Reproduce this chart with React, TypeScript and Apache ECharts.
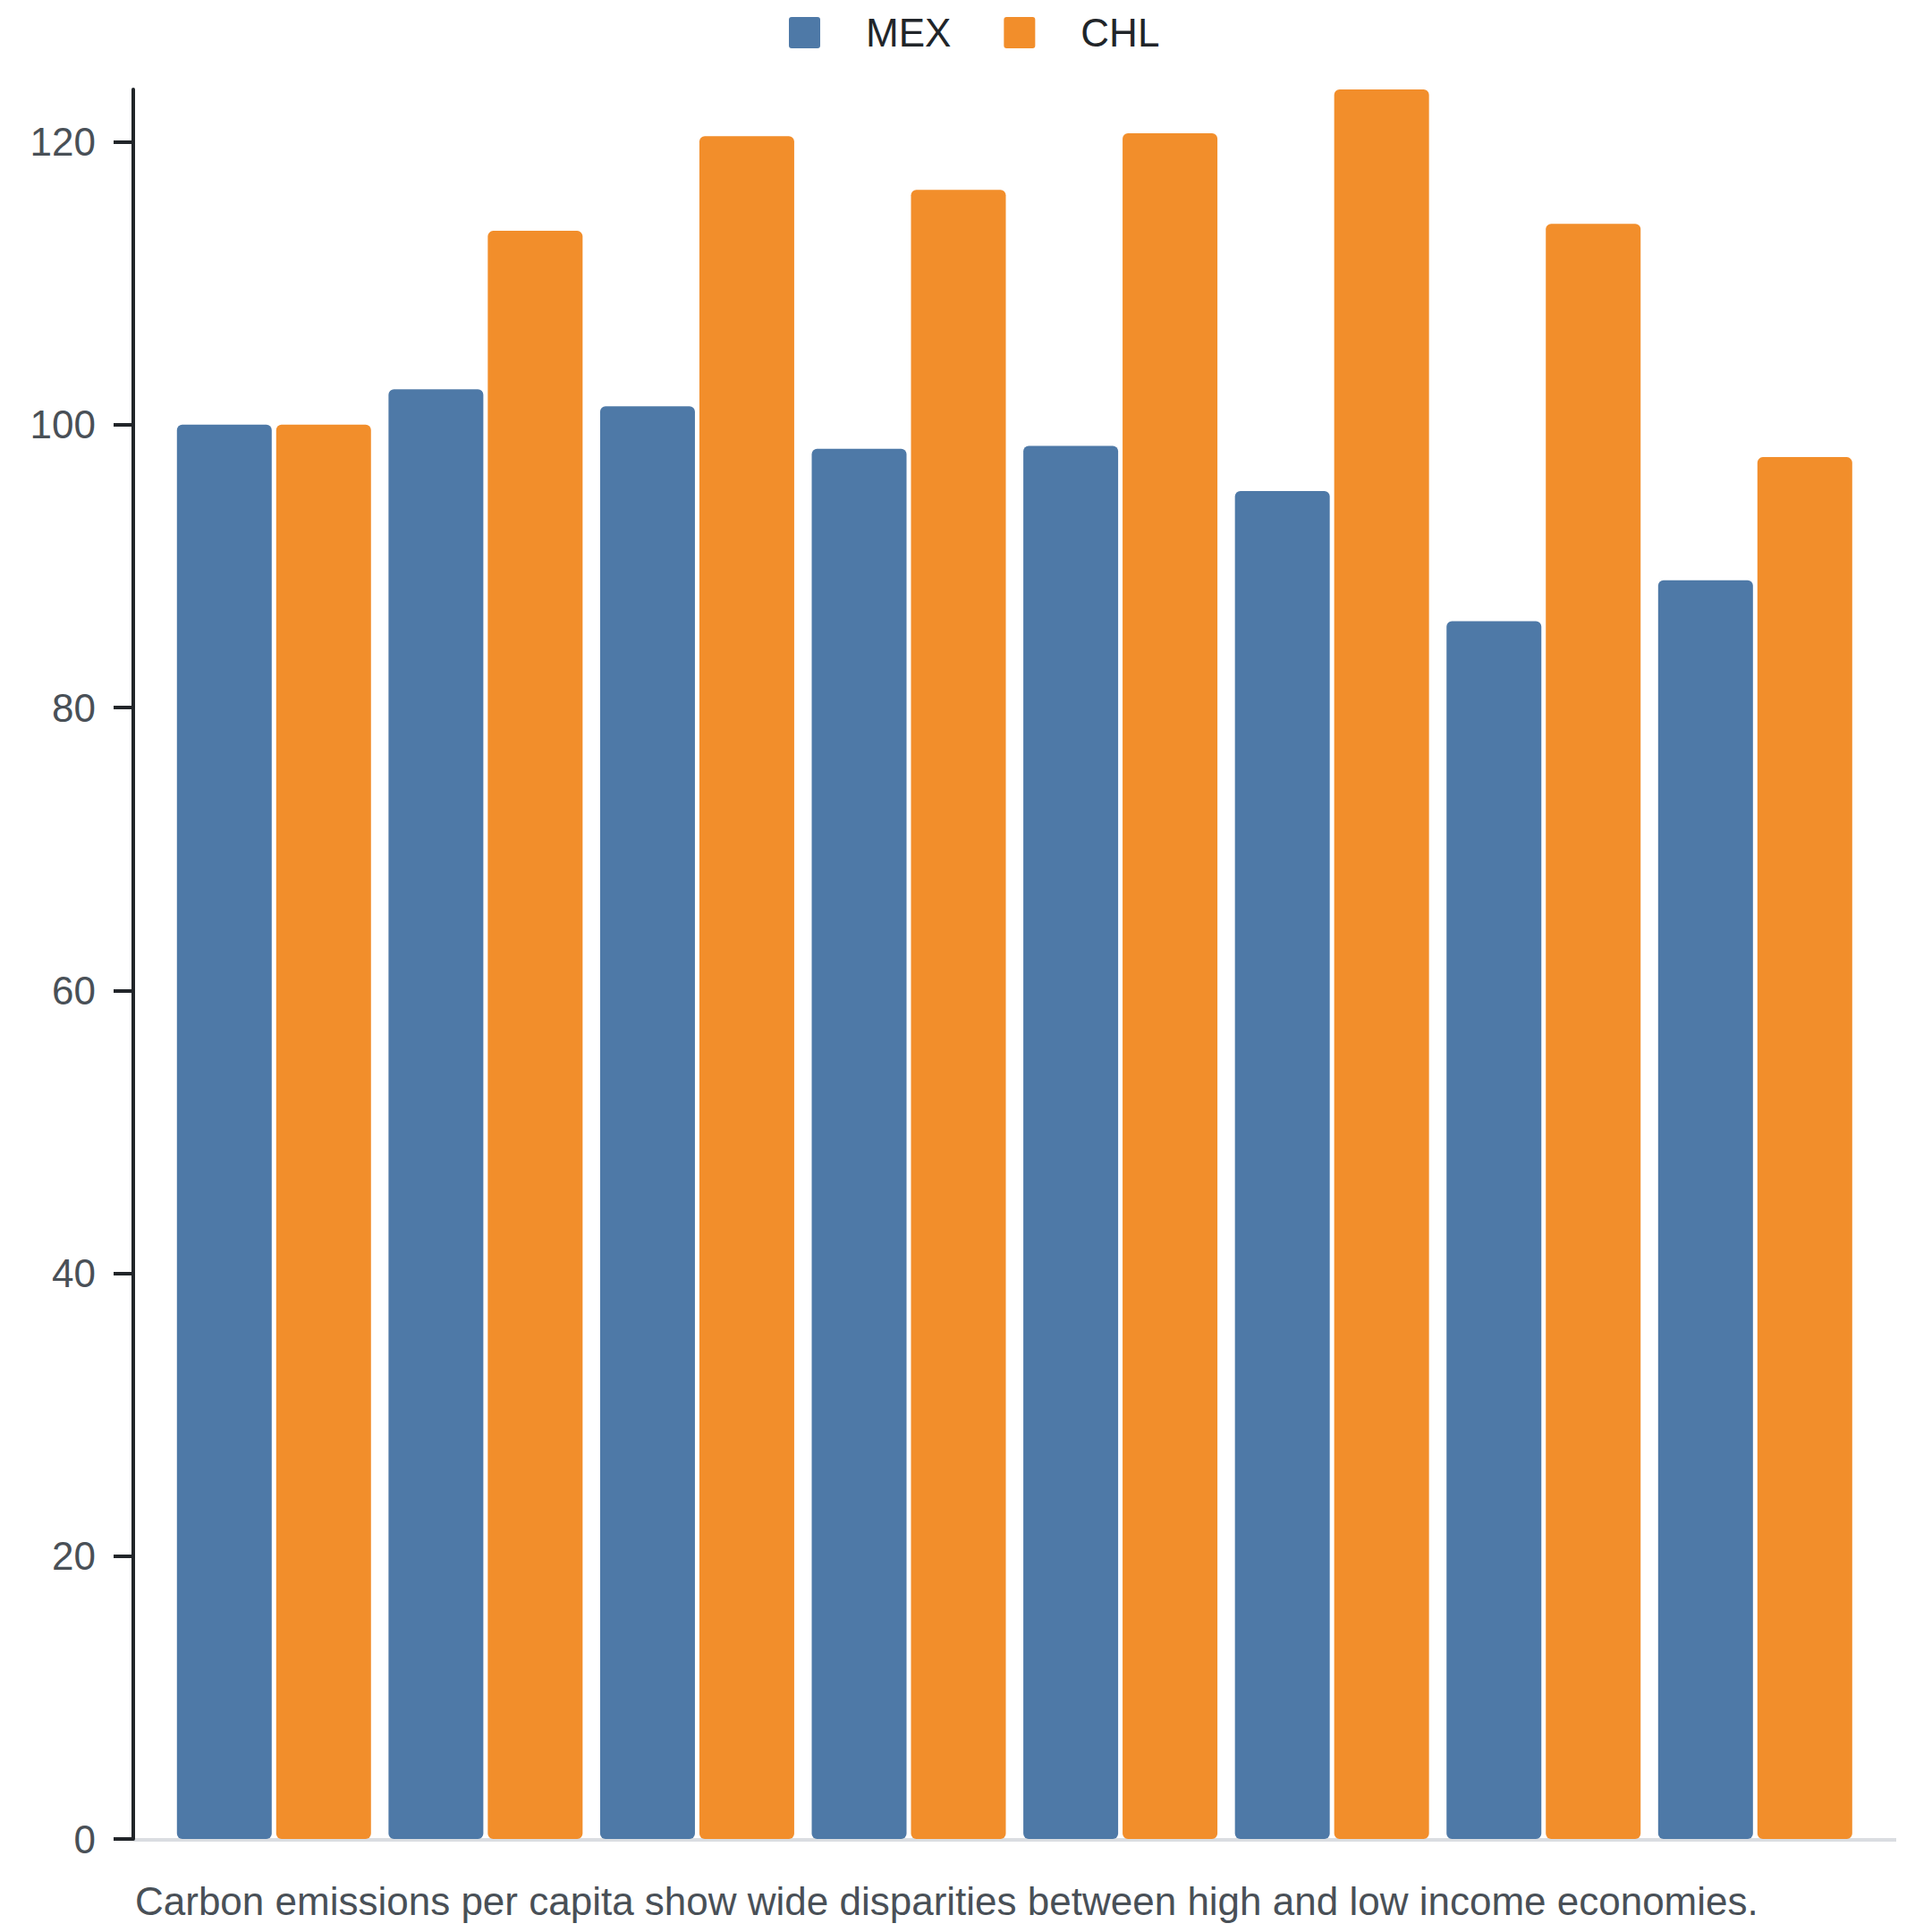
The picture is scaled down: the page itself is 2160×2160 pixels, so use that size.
import React, { useEffect, useRef } from "react";
import * as echarts from "echarts";

const categories = ["P1", "P2", "P3", "P4", "P5", "P6", "P7", "P8"];
const seriesNames = ["MEX", "CHL"];
const mexValues = [100, 102.5, 101.3, 98.3, 98.5, 95.3, 86.1, 89.0];
const chlValues = [100, 113.7, 120.4, 116.6, 120.6, 123.7, 114.2, 97.7];
const yTicks = [0, 20, 40, 60, 80, 100, 120];
const caption =
  "Carbon emissions per capita show wide disparities between high and low income economies.";

const COLORS = ["#4e79a7", "#f28e2b"];
const FONT = "'Liberation Sans', Arial, Helvetica, sans-serif";
const LEGEND_ICON =
  "path://M3,0 H32 Q35,0 35,3 V32 Q35,35 32,35 H3 Q0,35 0,32 V3 Q0,0 3,0 Z";

export default function App() {
  const ref = useRef<HTMLDivElement>(null);

  useEffect(() => {
    if (!ref.current) return;
    const chart = echarts.init(ref.current, null, { renderer: "svg" });
    const gridLeft = 180;
    const axisOffset = 39;
    const option: any = {
      animation: false,
      backgroundColor: "#ffffff",
      textStyle: { fontFamily: FONT },
      color: COLORS,
      legend: {
        data: seriesNames,
        top: 6.5,
        left: 874,
        padding: 0,
        itemWidth: 35,
        itemHeight: 35,
        itemGap: 59,
        icon: LEGEND_ICON,
        textStyle: {
          fontSize: 44,
          color: "#212529",
          fontFamily: FONT,
          padding: [0, 0, 0, 46],
        },
      },
      grid: {
        left: gridLeft,
        right: 71.4,
        top: 92,
        bottom: 96,
        containLabel: false,
      },
      xAxis: {
        type: "category",
        data: categories,
        axisLine: { show: false },
        axisTick: { show: false },
        axisLabel: { show: false },
        splitLine: { show: false },
      },
      yAxis: {
        type: "value",
        min: 0,
        max: (v: any) => v.max,
        offset: axisOffset,
        axisLine: { show: true, lineStyle: { color: "#212529", width: 4 } },
        axisTick: {
          show: true,
          length: 22,
          lineStyle: { color: "#212529", width: 4 },
          customValues: yTicks,
        },
        axisLabel: {
          show: true,
          fontSize: 44,
          color: "#495057",
          fontFamily: FONT,
          margin: 42,
          customValues: yTicks,
        },
        splitLine: { show: false },
      },
      series: [
        {
          name: seriesNames[0],
          type: "bar",
          data: mexValues,
          barWidth: 106,
          barGap: "4.7%",
          itemStyle: { color: COLORS[0], borderRadius: 6 },
        },
        {
          name: seriesNames[1],
          type: "bar",
          data: chlValues,
          barWidth: 106,
          barGap: "4.7%",
          itemStyle: { color: COLORS[1], borderRadius: 6 },
        },
      ],
    };
    chart.setOption(option);

    const y0 = chart.convertToPixel({ yAxisIndex: 0 } as any, 0) as number;
    const axisX = gridLeft - axisOffset;
    chart.setOption({
      graphic: [
        {
          type: "line",
          z: -1,
          shape: { x1: axisX, y1: y0 + 1, x2: 2112, y2: y0 + 1 },
          style: { stroke: "#dadde1", lineWidth: 4 },
        },
        {
          type: "text",
          x: 143,
          y: 2117,
          style: {
            text: caption,
            fontSize: 44,
            fontFamily: FONT,
            fill: "#495057",
            align: "left",
            verticalAlign: "middle",
          },
        },
      ],
    });

    return () => chart.dispose();
  }, []);

  return <div ref={ref} style={{ width: "2144px", height: "2144px" }} />;
}
